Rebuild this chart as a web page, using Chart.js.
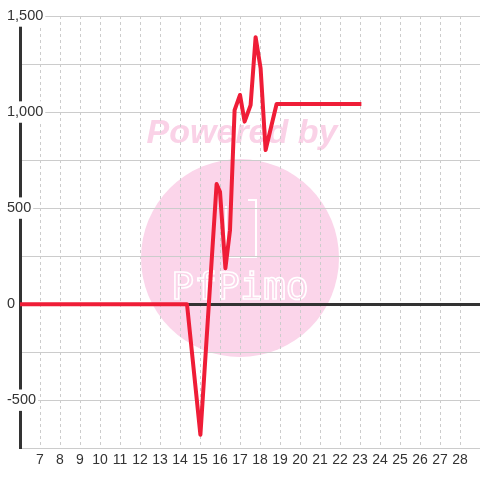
<!doctype html>
<html>
<head>
    <script src="https://cdn.jsdelivr.net/npm/chart.js"></script>
    <style type="text/css">
        body { margin: 0; background: #fff; }
        #wrap { width: 480px; height: 480px; }
    </style>
</head>
<body>
    <div id="wrap"><canvas id="myChart"></canvas></div>
    <script>
        // --data--
        const xValues = [6, 14.35, 15.02, 15.83, 16.0, 16.27, 16.5, 16.73, 17.0, 17.23, 17.53, 17.78, 18.03, 18.28, 18.83, 23.07];
        const yValues = [0, 0, -680, 625, 585, 187, 385, 1010, 1089, 950, 1036, 1390, 1228, 802, 1042, 1042];
        const xTicks = [7, 8, 9, 10, 11, 12, 13, 14, 15, 16, 17, 18, 19, 20, 21, 22, 23, 24, 25, 26, 27, 28];
        const yLabelled = [-500, 0, 500, 1000, 1500];

        const points = xValues.map((x, i) => ({ x: x, y: yValues[i] }));

        // watermark behind the grid
        const watermark = {
            id: 'watermark',
            beforeDraw(chart) {
                const c = chart.ctx;
                c.save();
                c.fillStyle = '#fff';
                c.fillRect(0, 0, chart.width, chart.height);
                c.fillStyle = '#fbd5ea';
                c.beginPath();
                c.arc(240, 258, 99, 0, Math.PI * 2);
                c.fill();
                c.font = 'italic bold 34px "Liberation Sans"';
                c.textAlign = 'center';
                c.textBaseline = 'middle';
                c.fillStyle = '#fad2e7';
                c.fillText('Powered by', 242, 134);
                c.strokeStyle = '#fff';
                c.lineWidth = 2;
                c.beginPath();
                c.moveTo(248, 200);
                c.lineTo(256, 200);
                c.lineTo(256, 257);
                c.lineTo(226, 257);
                c.lineTo(226, 206);
                c.stroke();
                c.font = '38px "DejaVu Sans Mono"';
                c.lineWidth = 1.6;
                c.strokeText('PfPimo', 240, 289);
                c.restore();
            }
        };

        const config = {
            type: 'line',
            data: {
                datasets: [{
                    data: points,
                    borderColor: '#ef1d37',
                    borderWidth: 4,
                    borderJoinStyle: 'round',
                    pointRadius: 0,
                    tension: 0,
                    fill: false
                }]
            },
            options: {
                responsive: true,
                maintainAspectRatio: false,
                animation: false,
                layout: { padding: { left: 20, top: 16, right: 0, bottom: 7 } },
                plugins: { legend: { display: false }, tooltip: { enabled: false } },
                scales: {
                    x: {
                        type: 'linear',
                        min: 6,
                        max: 29,
                        afterBuildTicks: (axis) => { axis.ticks = xTicks.map(v => ({ value: v })); },
                        grid: { color: '#ccc', drawTicks: false },
                        border: { display: false, dash: [3, 3] },
                        ticks: {
                            autoSkip: false,
                            maxRotation: 0,
                            padding: 4,
                            color: '#333',
                            font: { family: 'Liberation Sans', size: 14 }
                        }
                    },
                    y: {
                        min: -750,
                        max: 1500,
                        grid: {
                            color: (ctx) => ctx.tick && ctx.tick.value === 0 ? '#333' : '#ccc',
                            lineWidth: (ctx) => ctx.tick && ctx.tick.value === 0 ? 3 : 1,
                            drawTicks: true,
                            tickLength: 26,
                            tickColor: 'rgba(0,0,0,0)'
                        },
                        border: { color: '#333', width: 3 },
                        ticks: {
                            stepSize: 250,
                            mirror: true,
                            padding: -13,
                            crossAlign: 'near',
                            showLabelBackdrop: true,
                            backdropColor: '#fff',
                            backdropPadding: 2,
                            color: '#333',
                            font: { family: 'Liberation Sans', size: 14.5 },
                            callback: (v) => yLabelled.includes(v) ? v.toLocaleString('en-US') : ''
                        }
                    }
                }
            },
            plugins: [watermark]
        };

        const myChart = new Chart(document.getElementById('myChart').getContext('2d'), config);
    </script>
</body>
</html>
